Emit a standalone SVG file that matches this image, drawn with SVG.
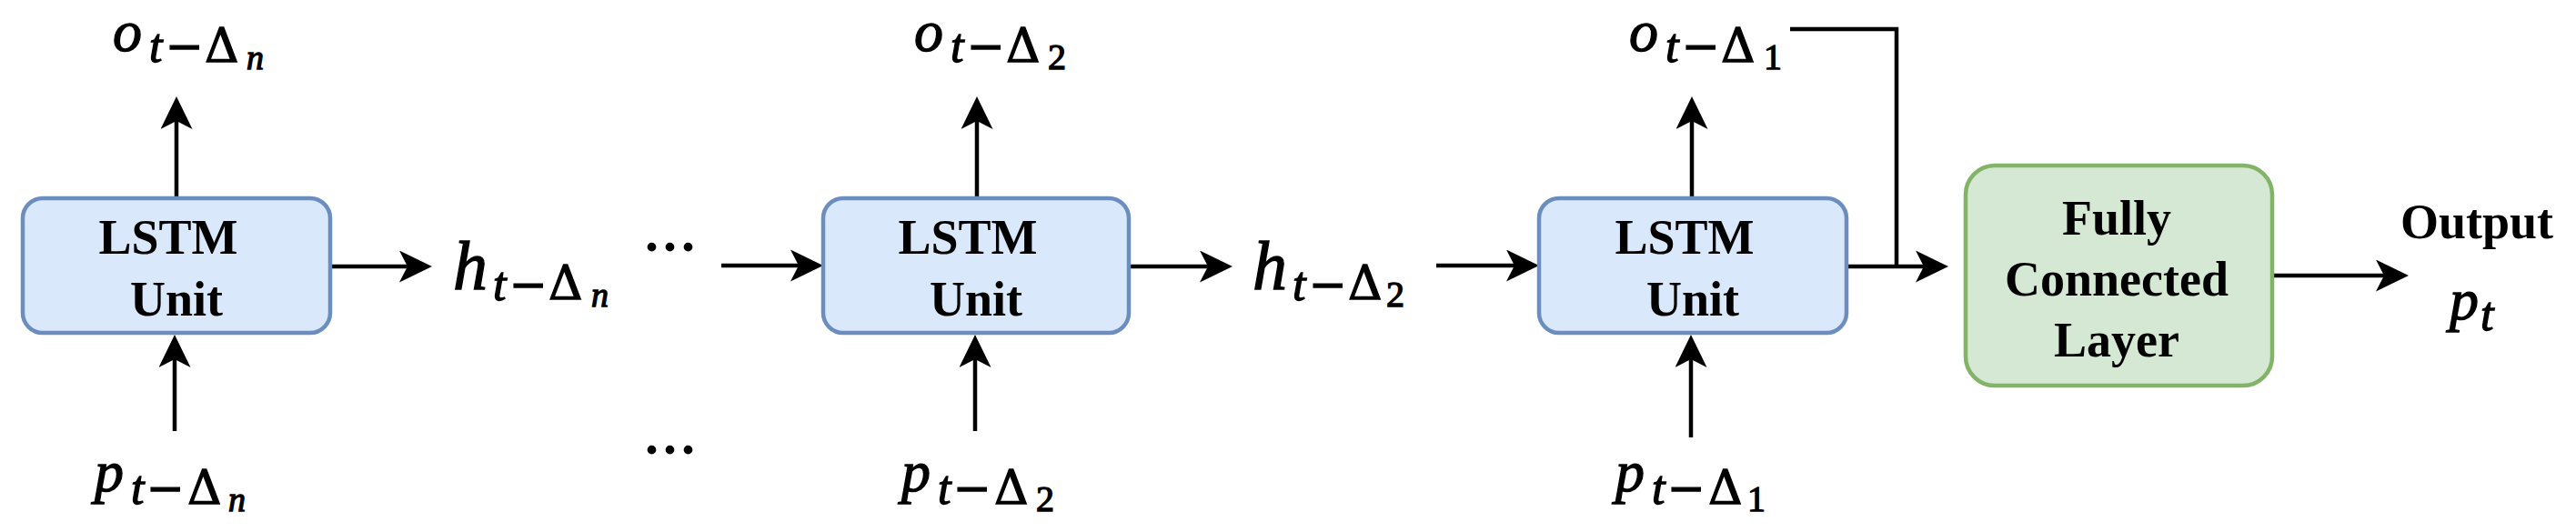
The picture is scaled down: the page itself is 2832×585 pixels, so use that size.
<svg xmlns="http://www.w3.org/2000/svg" width="2832" height="585" viewBox="0 0 2832 585">
<style>
.lstm{fill:#dae8fc;stroke:#6c8ebf;stroke-width:4.5}
.fc{fill:#d5e8d4;stroke:#82b366;stroke-width:4.5}
.bt{font-weight:bold;font-size:54px;fill:#000;text-anchor:middle}
.con{fill:none;stroke:#000;stroke-width:4.5}
.m{fill:#000;stroke:#000;stroke-width:1.3;font-style:italic}
.big{font-size:64px}
.hb{font-size:76px}
.s1{font-size:52px}
.op{font-size:50px;font-style:normal}
.dl{font-size:52px;font-style:normal}
.s2{font-size:38px}
.dg{font-size:40px;font-style:normal}
.dots{font-weight:bold;font-size:60px;letter-spacing:5px;fill:#000}
</style>
<defs>
<marker id="ah" markerUnits="userSpaceOnUse" markerWidth="36" markerHeight="35" viewBox="0 0 36 35" refX="12" refY="17.5" orient="auto">
<path d="M36,17.5 L0,0 L9,17.5 L0,35 Z" fill="#000"/>
</marker>
</defs>
<rect width="2832" height="585" fill="#fff"/>

<g id="connectors">
<line class="con" x1="194" y1="218" x2="194" y2="130" marker-end="url(#ah)"/>
<line class="con" x1="1074" y1="218" x2="1074" y2="130" marker-end="url(#ah)"/>
<line class="con" x1="1860" y1="218" x2="1860" y2="130" marker-end="url(#ah)"/>
<line class="con" x1="192" y1="474" x2="192" y2="392" marker-end="url(#ah)"/>
<line class="con" x1="1072" y1="474" x2="1072" y2="392" marker-end="url(#ah)"/>
<line class="con" x1="1859" y1="481" x2="1859" y2="392" marker-end="url(#ah)"/>
<line class="con" x1="363" y1="293" x2="451" y2="293" marker-end="url(#ah)"/>
<line class="con" x1="1241" y1="293" x2="1331" y2="293" marker-end="url(#ah)"/>
<line class="con" x1="793" y1="292" x2="881" y2="292" marker-end="url(#ah)"/>
<line class="con" x1="1579" y1="292" x2="1668" y2="292" marker-end="url(#ah)"/>
<line class="con" x1="2030" y1="293" x2="2118" y2="293" marker-end="url(#ah)"/>
<line class="con" x1="2498" y1="303" x2="2624" y2="303" marker-end="url(#ah)"/>
<polyline class="con" points="1968,32 2085,32 2085,293"/>
</g>

<g font-family="'Liberation Serif', 'Times New Roman', serif">
<g id="lstm1">
<rect class="lstm" x="25" y="218" width="338" height="148" rx="22" ry="22"/>
<text class="bt" x="185" y="279">LSTM</text>
<text class="bt" x="194" y="347">Unit</text>
</g>
<g id="lstm2">
<rect class="lstm" x="905" y="218" width="336" height="148" rx="22" ry="22"/>
<text class="bt" x="1064" y="279">LSTM</text>
<text class="bt" x="1073" y="347">Unit</text>
</g>
<g id="lstm3">
<rect class="lstm" x="1692" y="218" width="338" height="148" rx="22" ry="22"/>
<text class="bt" x="1852" y="279">LSTM</text>
<text class="bt" x="1861" y="347">Unit</text>
</g>
<g id="fc">
<rect class="fc" x="2161" y="182" width="337" height="242" rx="32" ry="32"/>
<text class="bt" x="2327" y="258">Fully</text>
<text class="bt" x="2327" y="325">Connected</text>
<text class="bt" x="2327" y="392">Layer</text>
</g>

<g id="o_n"><text class="m"><tspan class="big" x="124" y="56">o</tspan><tspan class="s1" x="164" y="68">t</tspan><tspan class="op" font-family="'DejaVu Serif', serif" x="182" y="68">−</tspan><tspan class="dl" font-family="'DejaVu Serif', serif" x="225" y="68">Δ</tspan><tspan class="s2" x="271" y="76">n</tspan></text></g>
<g id="o_2"><text class="m"><tspan class="big" x="1005" y="56">o</tspan><tspan class="s1" x="1045" y="68">t</tspan><tspan class="op" font-family="'DejaVu Serif', serif" x="1063" y="68">−</tspan><tspan class="dl" font-family="'DejaVu Serif', serif" x="1106" y="68">Δ</tspan><tspan class="dg" x="1152" y="76">2</tspan></text></g>
<g id="o_1"><text class="m"><tspan class="big" x="1791" y="56">o</tspan><tspan class="s1" x="1831" y="68">t</tspan><tspan class="op" font-family="'DejaVu Serif', serif" x="1849" y="68">−</tspan><tspan class="dl" font-family="'DejaVu Serif', serif" x="1892" y="68">Δ</tspan><tspan class="dg" x="1939" y="76">1</tspan></text></g>

<g id="h_n"><text class="m"><tspan class="hb" x="498" y="318">h</tspan><tspan class="s1" x="542" y="330">t</tspan><tspan class="op" font-family="'DejaVu Serif', serif" x="560" y="330">−</tspan><tspan class="dl" font-family="'DejaVu Serif', serif" x="603" y="329">Δ</tspan><tspan class="s2" x="650" y="337">n</tspan></text></g>
<g id="h_2"><text class="m"><tspan class="hb" x="1377" y="318">h</tspan><tspan class="s1" x="1421" y="330">t</tspan><tspan class="op" font-family="'DejaVu Serif', serif" x="1439" y="330">−</tspan><tspan class="dl" font-family="'DejaVu Serif', serif" x="1482" y="329">Δ</tspan><tspan class="dg" x="1524" y="337">2</tspan></text></g>

<g id="p_n"><text class="m"><tspan class="big" x="104" y="540">p</tspan><tspan class="s1" x="144" y="554">t</tspan><tspan class="op" font-family="'DejaVu Serif', serif" x="161" y="554">−</tspan><tspan class="dl" font-family="'DejaVu Serif', serif" x="206" y="554">Δ</tspan><tspan class="s2" x="251" y="562">n</tspan></text></g>
<g id="p_2"><text class="m"><tspan class="big" x="991" y="540">p</tspan><tspan class="s1" x="1031" y="554">t</tspan><tspan class="op" font-family="'DejaVu Serif', serif" x="1048" y="554">−</tspan><tspan class="dl" font-family="'DejaVu Serif', serif" x="1093" y="554">Δ</tspan><tspan class="dg" x="1139" y="562">2</tspan></text></g>
<g id="p_1"><text class="m"><tspan class="big" x="1776" y="540">p</tspan><tspan class="s1" x="1816" y="554">t</tspan><tspan class="op" font-family="'DejaVu Serif', serif" x="1833" y="554">−</tspan><tspan class="dl" font-family="'DejaVu Serif', serif" x="1878" y="554">Δ</tspan><tspan class="dg" x="1921" y="562">1</tspan></text></g>

<g id="dots">
<text class="dots" x="709" y="276">...</text>
<text class="dots" x="709" y="499">...</text>
</g>

<g id="output">
<text class="bt" x="2723" y="262">Output</text>
<text class="m"><tspan class="big" x="2693" y="351">p</tspan><tspan class="s1" x="2727" y="363">t</tspan></text>
</g>
</g>
</svg>
